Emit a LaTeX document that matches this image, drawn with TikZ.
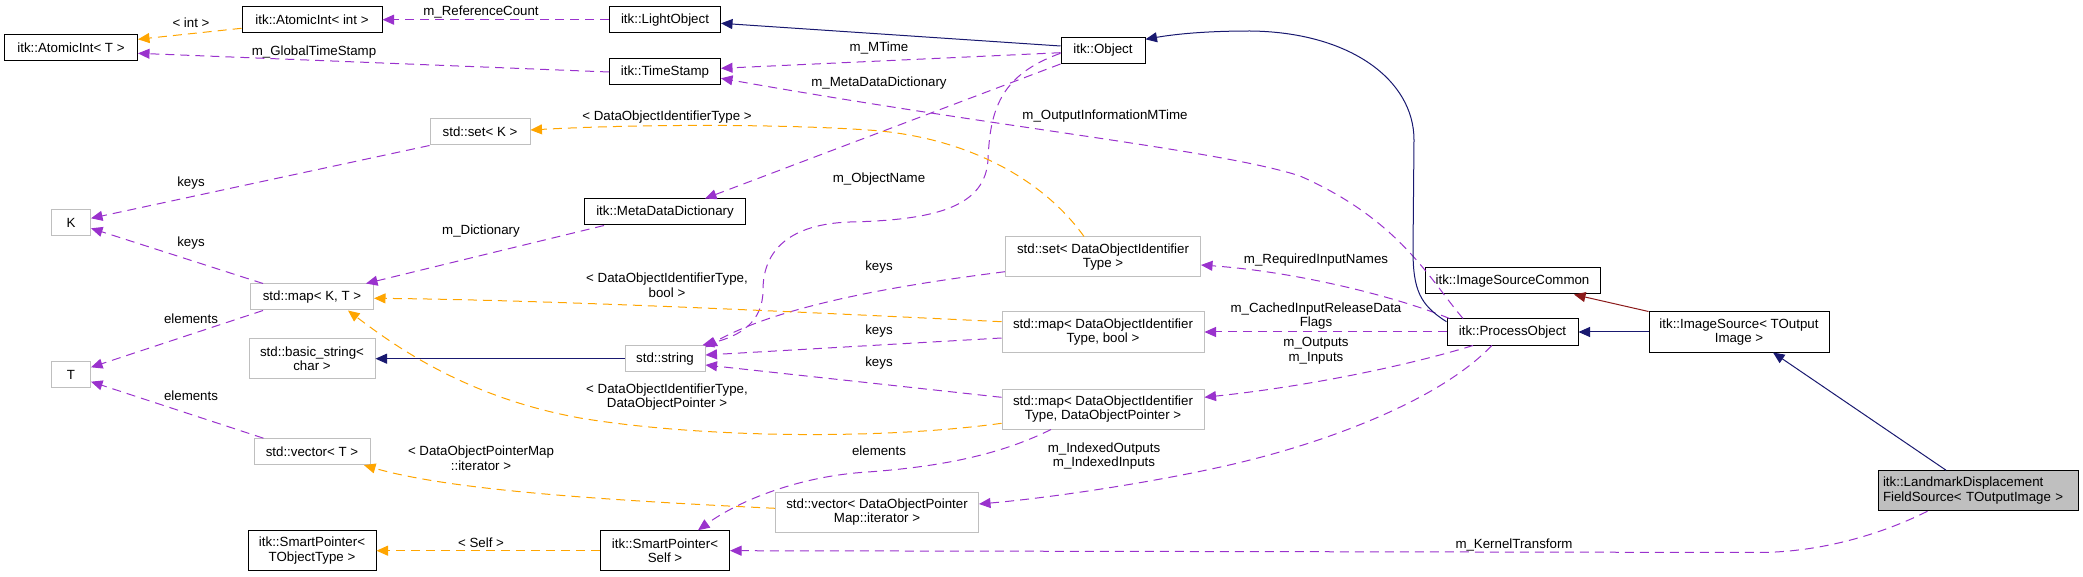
\documentclass[tikz,border=0pt]{standalone}
\usepackage{fontspec}
\setmainfont{Liberation Sans}
\usetikzlibrary{arrows.meta}
\definecolor{dpurple}{HTML}{9A32CD}
\definecolor{dorange}{HTML}{FFA500}
\definecolor{dnavy}{HTML}{191970}
\definecolor{dred}{HTML}{8B1A1A}
\definecolor{dgray}{HTML}{BFBFBF}
\begin{document}
\begin{tikzpicture}[x=1pt,y=-1pt,
  font=\fontsize{13.3}{14.7}\selectfont,
  cls/.style={draw=black, line width=1pt, inner sep=0pt, align=center, minimum height=26pt},
  ext/.style={draw=dgray, line width=1pt, inner sep=0pt, align=center, minimum height=26pt},
  tall/.style={minimum height=40pt},
  lbl/.style={inner sep=0pt, align=center},
  tip/.style={-{Triangle[length=11.5pt,width=10pt]}},
  mem/.style={draw=dpurple, line width=1pt, dash pattern=on 9pt off 6pt, tip},
  tmpl/.style={draw=dorange, line width=1pt, dash pattern=on 9pt off 6pt, tip},
  inh/.style={draw=dnavy, line width=1pt, tip},
  inhp/.style={draw=dred, line width=1pt, tip}]
\useasboundingbox (0,0) rectangle (2083,577);

% nodes
\node[cls, minimum width=133pt] (atT) at (71,48) {itk::AtomicInt< T >};
\node[cls, minimum width=140pt] (atInt) at (312,19.7) {itk::AtomicInt< int >};
\node[cls, minimum width=111pt] (light) at (665,19.7) {itk::LightObject};
\node[cls, minimum width=111pt] (ts) at (665,72) {itk::TimeStamp};
\node[cls, minimum width=84pt] (obj) at (1103,50.5) {itk::Object};
\node[ext, minimum width=100pt] (setK) at (480,132) {std::set< K >};
\node[ext, minimum width=39pt] (K) at (71,222.5) {K};
\node[cls, minimum width=161pt] (mdd) at (665,212) {itk::MetaDataDictionary};
\node[ext, tall, minimum width=195pt] (setD) at (1103,257) {std::set< DataObjectIdentifier\\Type >};
\node[ext, minimum width=123pt] (mapKT) at (312,297) {std::map< K, T >};
\node[ext, tall, minimum width=126pt] (bstr) at (312,358.7) {std::basic\_string<\\char >};
\node[ext, minimum width=80pt] (str) at (665,358.7) {std::string};
\node[ext, minimum width=39pt] (T) at (71,374.5) {T};
\node[ext, minimum width=116pt] (vecT) at (312,451.7) {std::vector< T >};
\node[cls, tall, minimum width=128pt] (spT) at (312,550.7) {itk::SmartPointer<\\TObjectType >};
\node[cls, tall, minimum width=129pt] (spS) at (665,550.7) {itk::SmartPointer<\\Self >};
\node[ext, tall, minimum width=202pt] (mapB) at (1103,332) {std::map< DataObjectIdentifier\\Type, bool >};
\node[ext, tall, minimum width=202pt] (mapP) at (1103,409) {std::map< DataObjectIdentifier\\Type, DataObjectPointer >};
\node[ext, tall, minimum width=203pt] (vecIt) at (877,512) {std::vector< DataObjectPointer\\Map::iterator >};
\node[cls, minimum width=131pt] (po) at (1512.5,332) {itk::ProcessObject};
\node[cls, minimum width=175pt] (isc) at (1512.5,281) {itk::ImageSourceCommon};
\node[cls, tall, minimum width=180pt] (is) at (1739,332) {itk::ImageSource< TOutput\\Image >};
\node[cls, tall, minimum width=200pt, fill=dgray, align=left, text width=190pt] (ldfs) at (1978,490.7) {itk::LandmarkDisplacement\\FieldSource< TOutputImage >};

% connectors
\draw[tmpl] ([yshift=-8.6pt]atInt.west) -- ([yshift=8.7pt]atT.east);
\draw[mem] (light.west) -- (atInt.east);
\draw[mem] (ts.west) -- ([yshift=-5.3pt]atT.east);
\draw[inh] ([yshift=4.5pt]obj.west) -- ([yshift=-3.6pt]light.east);
\draw[mem] ([yshift=-2.2pt]obj.west) -- ([yshift=3.7pt]ts.east);
\draw[mem] ([xshift=-49.5pt]po.north) .. controls (1430,280) and (1400,220) .. (1300,176)
  .. controls (1220,150) and (1000,128) .. ([yshift=-6.3pt]ts.east);
\draw[mem] (obj.south west) -- ([xshift=40pt]mdd.north);
\draw[mem] ([yshift=-2.8pt]obj.west) .. controls (1000,75) and (990,110) .. (988,160)
  .. controls (985,205) and (940,220) .. (850,222)
  .. controls (790,224) and (763,250) .. (763,290)
  .. controls (763,322) and (740,336) .. ([xshift=-3pt]str.north east);
\draw[mem] ([xshift=20pt]mdd.south west) -- ([xshift=54pt]mapKT.north);
\draw[mem] (setK.south west) -- ([yshift=4.2pt]K.east);
\draw[mem] ([xshift=13pt]mapKT.north west) -- ([yshift=-5.8pt]K.east);
\draw[mem] ([xshift=13pt]mapKT.south west) -- ([yshift=7.2pt]T.east);
\draw[mem] ([xshift=10pt]vecT.north west) -- ([yshift=-7.2pt]T.east);
\draw[inh] (str.west) -- (bstr.east);
\draw[tmpl] ([xshift=-19pt]setD.north) .. controls (1040,175) and (960,136) .. (868,130)
  .. controls (780,124) and (640,124) .. ([yshift=2pt]setK.east);
\draw[mem] ([yshift=-14.7pt]setD.west) .. controls (900,285) and (780,305) .. ([yshift=-2pt]str.north east);
\draw[tmpl] ([yshift=10.3pt]mapB.west) .. controls (800,312) and (550,300) .. ([yshift=-1.3pt]mapKT.east);
\draw[mem] ([yshift=-6pt]mapB.west) -- ([yshift=3.7pt]str.east);
\draw[mem] ([yshift=11.7pt]mapP.west) -- ([yshift=-6.3pt]str.east);
\draw[tmpl] ([yshift=-14.3pt]mapP.west) .. controls (880,440) and (700,438) .. (580,418)
  .. controls (470,398) and (400,350) .. ([xshift=36pt]mapKT.south);
\draw[mem] ([xshift=-52pt]mapP.south) .. controls (990,460) and (920,468) .. (868,472)
  .. controls (800,476) and (740,500) .. ([xshift=33pt]spS.north);
\draw[tmpl] ([yshift=3.7pt]vecIt.west) .. controls (600,500) and (450,490) .. ([xshift=52pt]vecT.south);
\draw[tmpl] (spS.west) -- (spT.east);
\draw[mem] ([xshift=3pt]po.north west) .. controls (1400,298) and (1300,272) .. ([yshift=-8pt]setD.east);
\draw[mem] (po.west) -- (mapB.east);
\draw[mem] ([xshift=-39.5pt]po.south) .. controls (1420,362) and (1320,385) .. ([yshift=11.7pt]mapP.east);
\draw[mem] ([xshift=-20.7pt]po.south) .. controls (1440,400) and (1330,440) .. (1250,460)
  .. controls (1180,478) and (1060,497) .. ([yshift=8pt]vecIt.east);
\draw[mem] ([xshift=-50.5pt]ldfs.south) .. controls (1880,535) and (1820,552) .. (1760,552.5) -- (spS.east);
\draw[inh] ([yshift=10.3pt]po.west) .. controls (1420,305) and (1413,290) .. (1413,250)
  -- (1414,140) .. controls (1414,80) and (1350,32) .. (1250,31)
  .. controls (1200,31) and (1170,35) .. ([yshift=11.2pt]obj.east);
\draw[inhp] (is.north west) -- ([xshift=61.5pt]isc.south);
\draw[inh] (is.west) -- (po.east);
\draw[inh] ([xshift=-32pt]ldfs.north) -- ([xshift=34pt]is.south);

% labels
\node[lbl] (l1) at (191,23) {< int >};
\node[lbl] (l2) at (481,12) {m\_ReferenceCount};
\node[lbl] (l3) at (314,52) {m\_GlobalTimeStamp};
\node[lbl] (l5) at (879,47.7) {m\_MTime};
\node[lbl] (l6) at (1105,115.7) {m\_OutputInformationMTime};
\node[lbl] (l7) at (879,83.3) {m\_MetaDataDictionary};
\node[lbl] (l8) at (879,179) {m\_ObjectName};
\node[lbl] (l9) at (481,230.7) {m\_Dictionary};
\node[lbl] (l10) at (191,182.7) {keys};
\node[lbl] (l11) at (191,242.7) {keys};
\node[lbl] (l12) at (191,319) {elements};
\node[lbl] (l13) at (191,395.7) {elements};
\node[lbl] (l15) at (667,116.7) {< DataObjectIdentifierType >};
\node[lbl] (l16) at (879,266.7) {keys};
\node[lbl] (l17) at (667,285) {< DataObjectIdentifierType,\\bool >};
\node[lbl] (l18) at (879,330.7) {keys};
\node[lbl] (l19) at (879,363) {keys};
\node[lbl] (l20) at (667,397) {< DataObjectIdentifierType,\\DataObjectPointer >};
\node[lbl] (l21) at (879,450.7) {elements};
\node[lbl] (l22) at (481,458) {< DataObjectPointerMap\\::iterator >};
\node[lbl] (l23) at (481,543) {< Self >};
\node[lbl] (l24) at (1316,260) {m\_RequiredInputNames};
\node[lbl] (l25) at (1316,316) {m\_CachedInputReleaseData\\Flags};
\node[lbl] (l26) at (1316,351) {m\_Outputs\\m\_Inputs};
\node[lbl] (l27) at (1104,456) {m\_IndexedOutputs\\m\_IndexedInputs};
\node[lbl] (l28) at (1514,545) {m\_KernelTransform};
\end{tikzpicture}
\end{document}
